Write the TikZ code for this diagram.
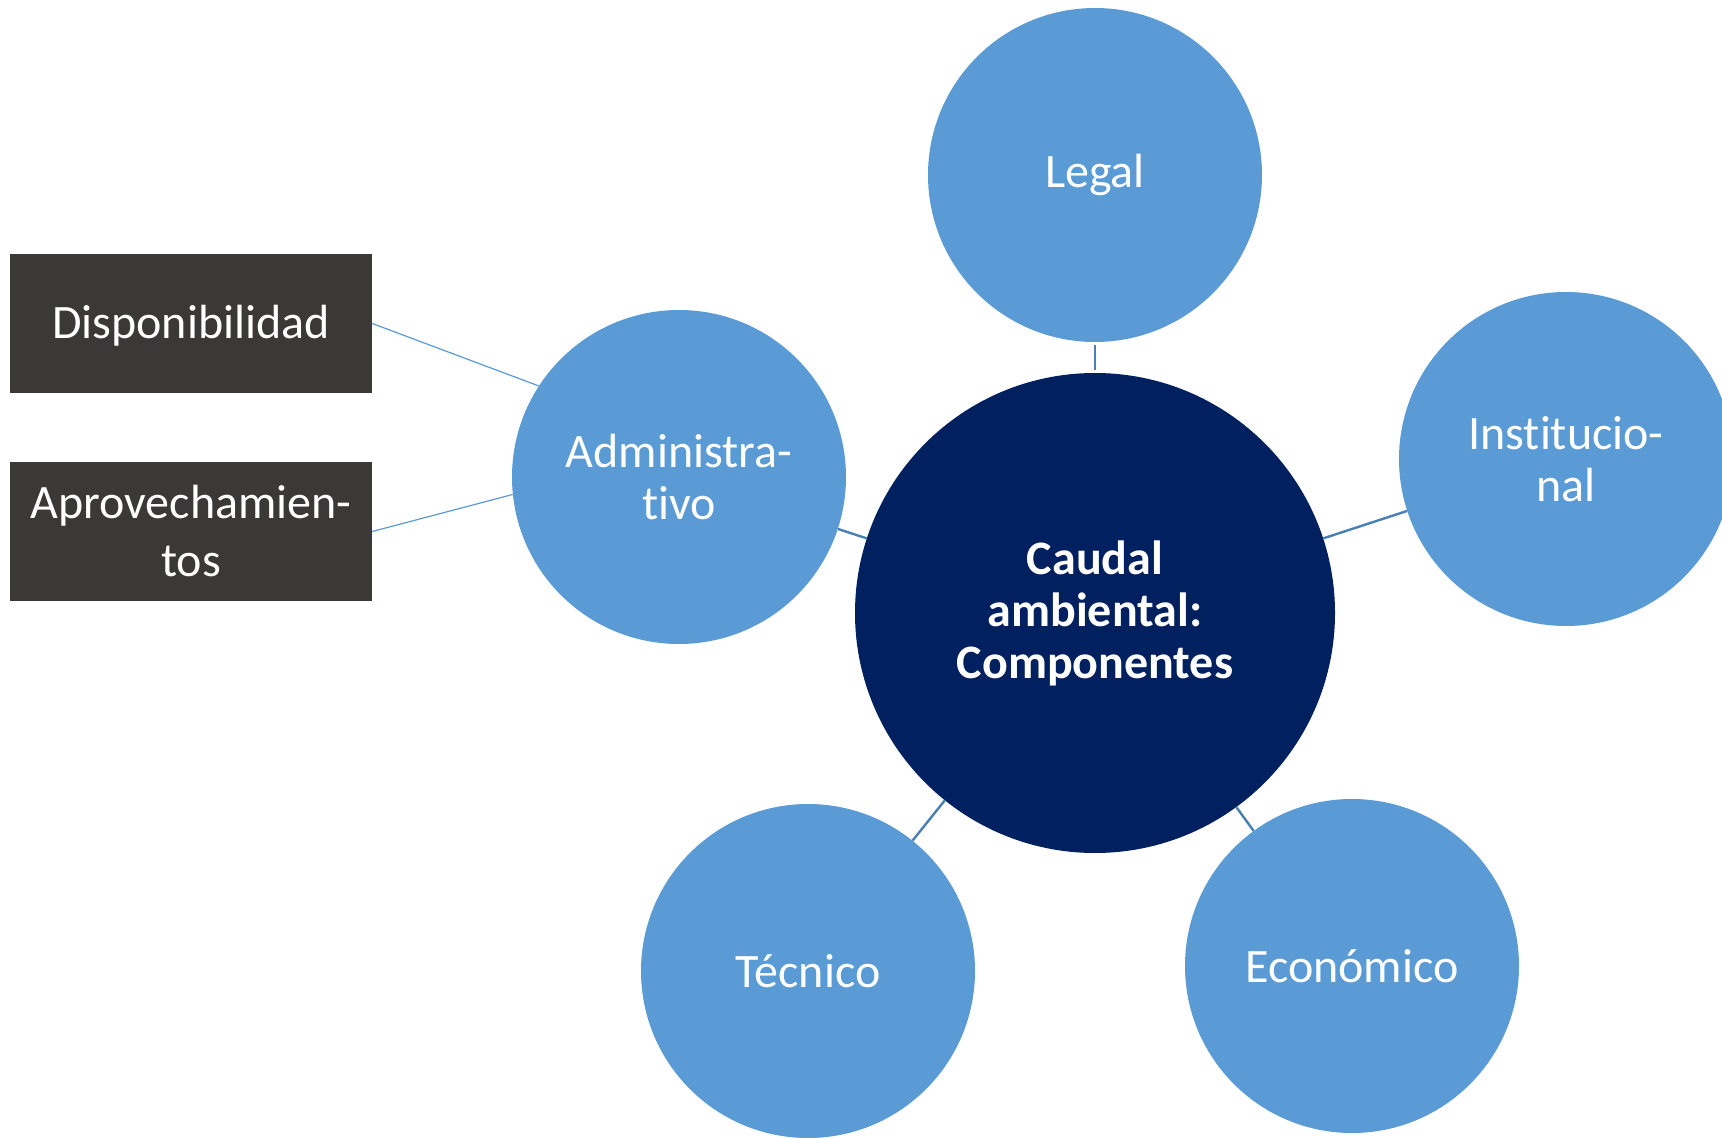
\documentclass[tikz,border=0pt]{standalone}
\usepackage{fontspec}
\setmainfont{Carlito}[Ligatures=NoCommon]
\definecolor{skyblue}{HTML}{5B9BD5}
\definecolor{deepnavy}{HTML}{002060}
\definecolor{charcoal}{HTML}{3B3838}
\definecolor{linkblue}{HTML}{4A7FB5}

\begin{document}
\begin{tikzpicture}[x=1pt, y=-1pt,
  hub/.style={circle, fill=deepnavy, minimum size=480pt, inner sep=0pt,
              align=center, text=white, font=\fontsize{48}{52}\selectfont\bfseries},
  bubble/.style={circle, fill=skyblue, minimum size=334pt, inner sep=0pt,
                 align=center, text=white, font=\fontsize{48}{52}\selectfont},
  tagbox/.style={rectangle, fill=charcoal, minimum width=362pt, minimum height=139pt,
                 inner sep=0pt, align=center, text=white, font=\fontsize{48}{58}\selectfont},
  spoke/.style={line width=2.4pt, color=linkblue},
  twig/.style={line width=1.2pt, color=skyblue}
]
\useasboundingbox (0,0) rectangle (1722,1139);

\node[hub] (caudal) at (1095,613) {Caudal\\ambiental:\\Componentes};
\node[bubble] (legal) at (1095,175) {Legal};
\node[bubble] (inst) at (1566,459) {Institucio-\\nal};
\node[bubble] (econ) at (1352,966) {Económico};
\node[bubble] (tecn) at (808,971) {Técnico};
\node[bubble] (admin) at (679,477) {Administra-\\tivo};
\node[tagbox, text depth=3pt] (disp) at (191,323.5) {Disponibilidad};
\node[tagbox] (aprov) at (191,531.5) {Aprovechamien-\\tos};

\draw[spoke, shorten <=3pt, shorten >=3pt] (caudal) -- (legal);
\draw[spoke] (caudal) -- (inst);
\draw[spoke] (caudal) -- (econ);
\draw[spoke] (caudal) -- (tecn);
\draw[spoke] (caudal) -- (admin);
\draw[twig] (disp.east) -- (admin.147.5);
\draw[twig] (aprov.east) -- (admin.186.9);

\end{tikzpicture}
\end{document}
